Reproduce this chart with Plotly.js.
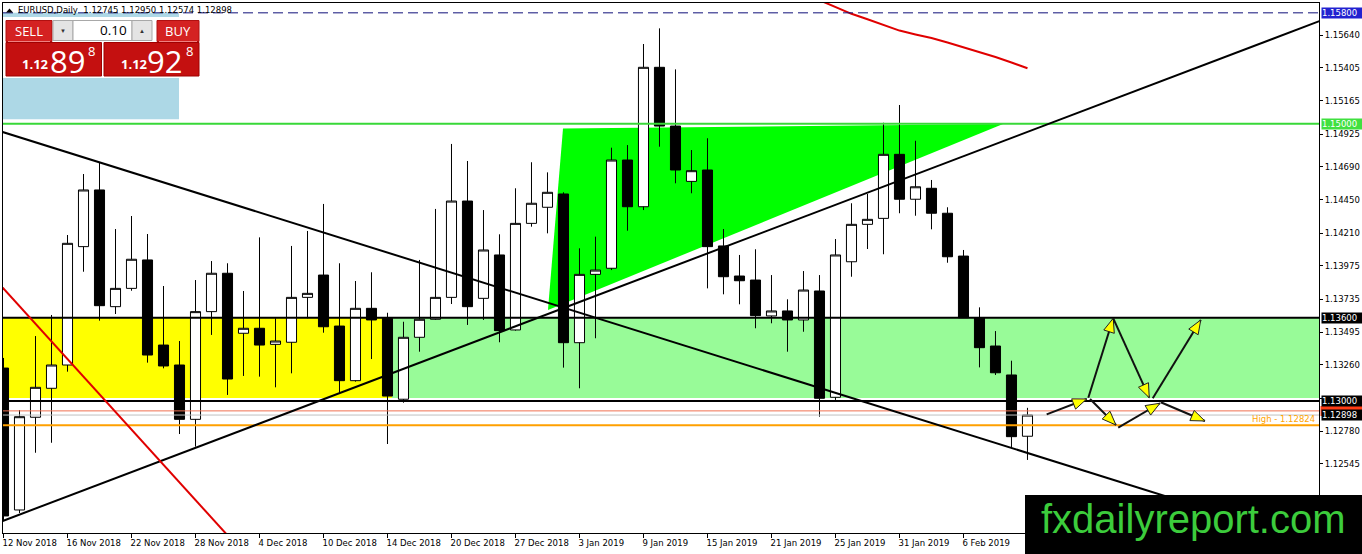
<!DOCTYPE html>
<html><head><meta charset="utf-8">
<script src="https://cdn.plot.ly/plotly-3.0.1.min.js"></script>
<style>html,body{margin:0;padding:0;background:#fff;overflow:hidden}#chart{width:1362px;height:554px;}</style>
</head><body><div id="chart"></div>
<script>
// ---------------- DATA ----------------
const dates = ['2018-11-12','2018-11-13','2018-11-14','2018-11-15','2018-11-16','2018-11-19','2018-11-20','2018-11-21','2018-11-22','2018-11-23',
'2018-11-26','2018-11-27','2018-11-28','2018-11-29','2018-11-30','2018-12-03','2018-12-04','2018-12-05','2018-12-06','2018-12-07',
'2018-12-10','2018-12-11','2018-12-12','2018-12-13','2018-12-14','2018-12-17','2018-12-18','2018-12-19','2018-12-20','2018-12-21',
'2018-12-24','2018-12-26','2018-12-27','2018-12-28','2018-12-31','2019-01-02','2019-01-03','2019-01-04','2019-01-07','2019-01-08',
'2019-01-09','2019-01-10','2019-01-11','2019-01-14','2019-01-15','2019-01-16','2019-01-17','2019-01-18','2019-01-21','2019-01-22',
'2019-01-23','2019-01-24','2019-01-25','2019-01-28','2019-01-29','2019-01-30','2019-01-31','2019-02-01','2019-02-04','2019-02-05',
'2019-02-06','2019-02-07','2019-02-08','2019-02-11','2019-02-12'];

const openP = [1.13237,1.12213,1.12882,1.13091,1.13259,1.14113,1.14522,1.13680,1.13812,1.14017,
1.13403,1.13259,1.12867,1.13644,1.13921,1.13488,1.13524,1.13408,1.13423,1.13747,
1.13908,1.13540,1.13146,1.13668,1.13596,1.13012,1.13459,1.13589,1.13747,1.14442,
1.13740,1.14053,1.13512,1.14281,1.14397,1.14493,1.13420,1.13913,1.13957,1.14738,
1.14401,1.15407,1.14983,1.14584,1.14666,1.14118,1.13901,1.13872,1.13613,1.13649,
1.13584,1.13793,1.13026,1.14004,1.14274,1.14317,1.14779,1.14455,1.14534,1.14354,
1.14045,1.13600,1.13396,1.13187,1.12745];

const highP = [1.13310,1.12934,1.13468,1.13620,1.14197,1.14637,1.14719,1.14240,1.14334,1.14204,
1.13829,1.13432,1.13872,1.14009,1.13993,1.13793,1.14180,1.13596,1.14118,1.14226,
1.14421,1.13993,1.13865,1.13928,1.13636,1.13571,1.14017,1.14385,1.14854,1.14731,
1.14377,1.14202,1.14534,1.14722,1.14649,1.14505,1.14101,1.14185,1.14827,1.14846,
1.15575,1.15688,1.15392,1.14810,1.14895,1.14240,1.14053,1.14094,1.13908,1.13733,
1.13937,1.13908,1.14168,1.14426,1.14493,1.15007,1.15135,1.14877,1.14594,1.14397,
1.14089,1.13675,1.13504,1.13290,1.12950];

const lowP = [1.12141,1.12191,1.12626,1.12698,1.13211,1.13932,1.13579,1.13627,1.13795,1.13276,
1.13235,1.12761,1.12670,1.13476,1.13043,1.13180,1.13175,1.13098,1.13199,1.13596,
1.13492,1.13055,1.13139,1.13302,1.12689,1.12987,1.13355,1.13584,1.13699,1.13548,
1.13584,1.13423,1.13507,1.14257,1.14209,1.13240,1.13091,1.13452,1.13944,1.14228,
1.14377,1.14834,1.14570,1.14498,1.13812,1.13769,1.13697,1.13524,1.13560,1.13355,
1.13499,1.12886,1.13007,1.13896,1.14096,1.14058,1.14354,1.14336,1.14238,1.13997,
1.13598,1.13242,1.13187,1.12662,1.12574];

const closeP = [1.12170,1.12886,1.13098,1.13259,1.14137,1.14522,1.13687,1.13812,1.14022,1.13331,
1.13252,1.12867,1.13644,1.13921,1.13158,1.13524,1.13403,1.13432,1.13747,1.13776,
1.13535,1.13146,1.13668,1.13584,1.13035,1.13459,1.13589,1.13747,1.14442,1.13680,
1.14089,1.13507,1.14281,1.14426,1.14505,1.13420,1.13913,1.13944,1.14738,1.14401,
1.15407,1.14983,1.14666,1.14661,1.14113,1.13896,1.13867,1.13615,1.13649,1.13584,
1.13800,1.13019,1.14053,1.14274,1.14310,1.14779,1.14455,1.14545,1.14354,1.14040,
1.13600,1.13384,1.13203,1.12742,1.12898];

// 200-day moving average (visible tail, bars 51..64)
const maStart = 51;
const ma200 = [1.15891,1.15841,1.15793,1.15754,1.15712,1.15672,1.15644,1.15618,1.15586,1.15552,1.15517,1.15481,1.15442,1.15400];

// price-axis tick labels (labels hidden under tags / logo are left blank)
const yTicks = [1.15640,1.15405,1.15165,1.14925,1.14690,1.14450,1.14210,1.13975,1.13735,1.13495,1.13260,1.13020,1.12780,1.12545,1.12310];
const yTickHidden = [1.13020, 1.12310];

// horizontal levels
const levels = [
  {p:1.15800, color:'#10107A', width:1, dash:'10px,5px', tag:'#2222D0'},
  {p:1.15000, color:'#38D838', width:2, dash:'solid', tag:'#40E040'},
  {p:1.13600, color:'#000000', width:2, dash:'solid', tag:'#000000'},
  {p:1.13000, color:'#000000', width:2, dash:'solid', tag:'#000000'},
  {p:1.12928, color:'#F07050', width:1, dash:'solid', tag:'#FF3C14', strip:true},
  {p:1.12898, color:'#C0C0C0', width:1, dash:'solid', tag:'#000000'},
  {p:1.12824, color:'#FFA000', width:2, dash:'solid', tag:null}
];
const highLabel = 'High - 1.12824';

// drawn trendlines [i0, p0, i1, p1, color]
const trendLines = [
  [-1, 1.14974, 85, 1.11865, '#000000'],
  [-1, 1.12092, 85, 1.15861, '#000000'],
  [-1, 1.13938, 16, 1.11776, '#E00000']
];
// zones [i0, i1, pLow, pHigh, color]
const zones = [
  [-2, 24.28, 1.13021, 1.13600, '#FFFF00'],
  [24.28, 90, 1.13021, 1.13600, '#98FB98'],
  [-2, 10.97, 1.15032, 1.15800, '#ADD8E6']
];
// triangle vertices [i, p]
const triangle = [[34.97,1.14965],[62.47,1.14998],[34.03,1.13656]];
// yellow arrows [i0,p0,i1,p1]
const arrowSegs = [
  [65.2,1.12903, 67.7,1.13014],
  [67.8,1.13023, 69.36,1.13596],
  [69.36,1.13596, 71.61,1.13023],
  [71.83,1.13019, 74.83,1.13584],
  [67.91,1.13014, 69.53,1.12826],
  [69.67,1.12807, 72.28,1.12983],
  [72.33,1.12990, 75.09,1.12855]
];
const symbolTitle = 'EURUSD,Daily  1.12745 1.12950 1.12574 1.12898';
const bid = ['1.12', '89', '8'];
const ask = ['1.12', '92', '8'];
const lotSize = '0.10';

// ---------------- LAYOUT GEOMETRY ----------------
const W = 1362, H = 554, L = 3, R = 1319, T = 3, B = 533;
const X0 = -0.03125, X1 = 82.22;
const Y0 = 1.120469, Y1 = 1.158709;
const px = x => (x - L) / (R - L);
const py = y => (B - y) / (B - T);
const toPix = (i, p) => [L + (i - X0) / (X1 - X0) * (R - L), T + (Y1 - p) / (Y1 - Y0) * (B - T)];

const MON = ['Jan','Feb','Mar','Apr','May','Jun','Jul','Aug','Sep','Oct','Nov','Dec'];
const fmtDate = s => { const [y,m,d] = s.split('-'); return (+d) + ' ' + MON[+m-1] + ' ' + y; };
const idx = dates.map((_, i) => i);
const xTickVals = idx.filter(i => i % 4 === 0 && i <= 60);
const xTickText = xTickVals.map(i => fmtDate(dates[i]));

const FONT = 'DejaVu Sans, Tahoma, sans-serif';

const shapes = [];
const annotations = [];

// zones (below candles)
zones.forEach(z => shapes.push({type:'rect', xref:'x', yref:'y', x0:z[0], x1:z[1], y0:z[2], y1:z[3],
  fillcolor:z[4], line:{width:0}, layer:'below'}));
// triangle
shapes.push({type:'path', xref:'x', yref:'y', layer:'below', fillcolor:'#00FF00', line:{width:0},
  path:'M ' + triangle.map(v => v[0] + ',' + v[1]).join(' L ') + ' Z'});
// levels
levels.forEach(lv => shapes.push({type:'line', xref:'paper', yref:'y', x0:0, x1:1, y0:lv.p, y1:lv.p,
  line:{color:lv.color, width:lv.width, dash:lv.dash}, layer:'above'}));
// trendlines
trendLines.forEach(t => shapes.push({type:'line', xref:'x', yref:'y', x0:t[0], y0:t[1], x1:t[2], y1:t[3],
  line:{color:t[4], width:2}, layer:'above'}));
// arrows
arrowSegs.forEach(s => {
  shapes.push({type:'line', xref:'x', yref:'y', x0:s[0], y0:s[1], x1:s[2], y1:s[3],
    line:{color:'#111111', width:2}, layer:'above'});
  const a = toPix(s[0], s[1]), b = toPix(s[2], s[3]);
  const dx = b[0]-a[0], dy = b[1]-a[1], len = Math.hypot(dx, dy), ux = dx/len, uy = dy/len;
  const hl = 14, hw = 5.5;
  const bx = b[0]-ux*hl, by = b[1]-uy*hl;
  const p1 = [bx-uy*hw, by+ux*hw], p2 = [bx+uy*hw, by-ux*hw];
  shapes.push({type:'path', xref:'paper', yref:'paper', layer:'above', fillcolor:'#FFFF00',
    line:{color:'#222222', width:1},
    path:`M ${px(b[0])},${py(b[1])} L ${px(p1[0])},${py(p1[1])} L ${px(p2[0])},${py(p2[1])} Z`});
});

// price tags on the right axis
levels.forEach(lv => {
  if (!lv.tag) return;
  if (lv.strip) {
    // ask tag: mostly covered by the bid tag, drawn as a coloured strip
    const yc = toPix(0, lv.p)[1];
    shapes.push({type:'rect', xref:'paper', yref:'paper', x0:px(1320.5), x1:px(1362.5),
      y0:py(yc + 5), y1:py(yc - 5), fillcolor:lv.tag, line:{width:0}, layer:'above'});
    return;
  }
  annotations.push({xref:'paper', yref:'y', x:px(1320.5), y:lv.p, xanchor:'left', yanchor:'middle',
    text:lv.p.toFixed(5), showarrow:false, bgcolor:lv.tag, borderpad:0, width:42, height:10, align:'left',
    font:{family:FONT, size:8.5, color:'#FFFFFF'}});
});
annotations.push({xref:'paper', yref:'y', x:px(1317), y:1.12824, xanchor:'right', yanchor:'bottom', yshift:-1,
  text:highLabel, showarrow:false, font:{family:FONT, size:8.5, color:'#FFA500'}});

// title
shapes.push({type:'path', xref:'paper', yref:'paper', fillcolor:'#000', line:{width:0},
  path:`M ${px(6)},${py(12.5)} L ${px(13)},${py(12.5)} L ${px(9.5)},${py(8.5)} Z`});
annotations.push({xref:'paper', yref:'paper', x:px(16), y:py(9.8), xanchor:'left', yanchor:'middle',
  text:symbolTitle.replace(/ /g,'&nbsp;'), showarrow:false, font:{family:FONT, size:8.5, color:'#000'}});

// one-click trading panel
const rectPx = (x0,y0,x1,y1,fill,lc,lw) => shapes.push({type:'rect', xref:'paper', yref:'paper',
  x0:px(x0), x1:px(x1), y0:py(y1), y1:py(y0), fillcolor:fill, line:{color:lc||fill, width:lw||0}, layer:'above'});
rectPx(3, 17, 202, 78, '#FFFFFF');
rectPx(6, 20.5, 52, 41.5, '#D42222', '#B01010', 1);
rectPx(157, 20.5, 199, 41.5, '#D42222', '#B01010', 1);
rectPx(53, 20.5, 73, 40.5, '#E4E4E4', '#A8A8A8', 1);
rectPx(73, 20.5, 132, 40.5, '#FFFFFF', '#A8A8A8', 1);
rectPx(132, 20.5, 152, 40.5, '#E4E4E4', '#A8A8A8', 1);
rectPx(6, 42.5, 101.5, 76, '#C41010', '#A00000', 1);
rectPx(104, 42.5, 199, 76, '#C41010', '#A00000', 1);
shapes.push({type:'line', xref:'paper', yref:'paper', x0:px(8), x1:px(50), y0:py(41.5), y1:py(41.5), line:{color:'#F08080', width:1}});
shapes.push({type:'line', xref:'paper', yref:'paper', x0:px(159), x1:px(197), y0:py(41.5), y1:py(41.5), line:{color:'#F08080', width:1}});
const txt = (x, y, t, size, color, anchor, family, weight) => annotations.push({xref:'paper', yref:'paper',
  x:px(x), y:py(y), xanchor:anchor||'center', yanchor:'middle', text:t, showarrow:false,
  font:{family:family||'Open Sans, sans-serif', size:size, color:color, weight:weight||'normal'}});
txt(29, 31, 'SELL', 13, '#FFFFFF');
txt(178, 31, 'BUY', 13, '#FFFFFF');
txt(129, 30, lotSize, 13.5, '#000000', 'right');
txt(63, 30.5, '▼', 6, '#333333');
txt(142, 30.5, '▲', 6, '#333333');
txt(20, 64, bid[0], 13, '#FFFFFF', 'left', 'Open Sans, sans-serif', 'bold');
txt(48, 61, bid[1], 31, '#FFFFFF', 'left');
txt(86, 51, bid[2], 13, '#FFFFFF', 'left');
txt(119, 64, ask[0], 13, '#FFFFFF', 'left', 'Open Sans, sans-serif', 'bold');
txt(145, 61, ask[1], 31, '#FFFFFF', 'left');
txt(184, 51, ask[2], 13, '#FFFFFF', 'left');

// watermark / logo box
shapes.push({type:'rect', xref:'paper', yref:'paper', x0:px(1025), x1:px(1365), y0:py(557), y1:py(495),
  fillcolor:'#000000', line:{width:0}, layer:'above'});
annotations.push({xref:'paper', yref:'paper', x:px(1193.5), y:py(519), xanchor:'center', yanchor:'middle',
  text:'fxdailyreport.com', showarrow:false, font:{family:'Liberation Sans, Arial, sans-serif', size:40, color:'#3CCC3C'}});

// ---------------- TRACES ----------------
const traces = [
  {type:'candlestick', x:idx, open:openP, high:highP, low:lowP, close:closeP,
   increasing:{line:{color:'#000000', width:1}, fillcolor:'#FFFFFF'},
   decreasing:{line:{color:'#000000', width:1}, fillcolor:'#000000'},
   whiskerwidth:0, hoverinfo:'skip', showlegend:false},
  {type:'scatter', mode:'lines', x:ma200.map((_, k) => maStart + k), y:ma200,
   line:{color:'#E00000', width:2}, hoverinfo:'skip', showlegend:false}
];

const layout = {
  width:W, height:H, margin:{l:L, r:W-R, t:T, b:H-B, pad:0},
  paper_bgcolor:'#FFFFFF', plot_bgcolor:'#FFFFFF',
  showlegend:false, dragmode:false, hovermode:false,
  boxgap:0.1, boxgroupgap:0.3,
  xaxis:{range:[X0, X1], type:'linear', rangeslider:{visible:false}, showgrid:false, zeroline:false,
    showline:true, linecolor:'#000', linewidth:1, mirror:true,
    tickmode:'array', tickvals:xTickVals, ticktext:xTickText, ticks:'outside', ticklen:4, tickcolor:'#000',
    ticklabelposition:'outside right', ticklabelshift:-2, ticklabelstandoff:2,
    tickfont:{family:FONT, size:8.5, color:'#000'}, fixedrange:true},
  yaxis:{range:[Y0, Y1], side:'right', showgrid:false, zeroline:false,
    showline:true, linecolor:'#000', linewidth:1, mirror:true,
    tickmode:'array', tickvals:yTicks,
    ticktext:yTicks.map(v => yTickHidden.includes(v) ? '' : v.toFixed(5)),
    ticks:'outside', ticklen:3, tickcolor:'#000',
    tickfont:{family:FONT, size:8.5, color:'#000'}, fixedrange:true},
  shapes:shapes, annotations:annotations
};

Plotly.newPlot('chart', traces, layout, {displayModeBar:false, staticPlot:true});
</script>
</body></html>
